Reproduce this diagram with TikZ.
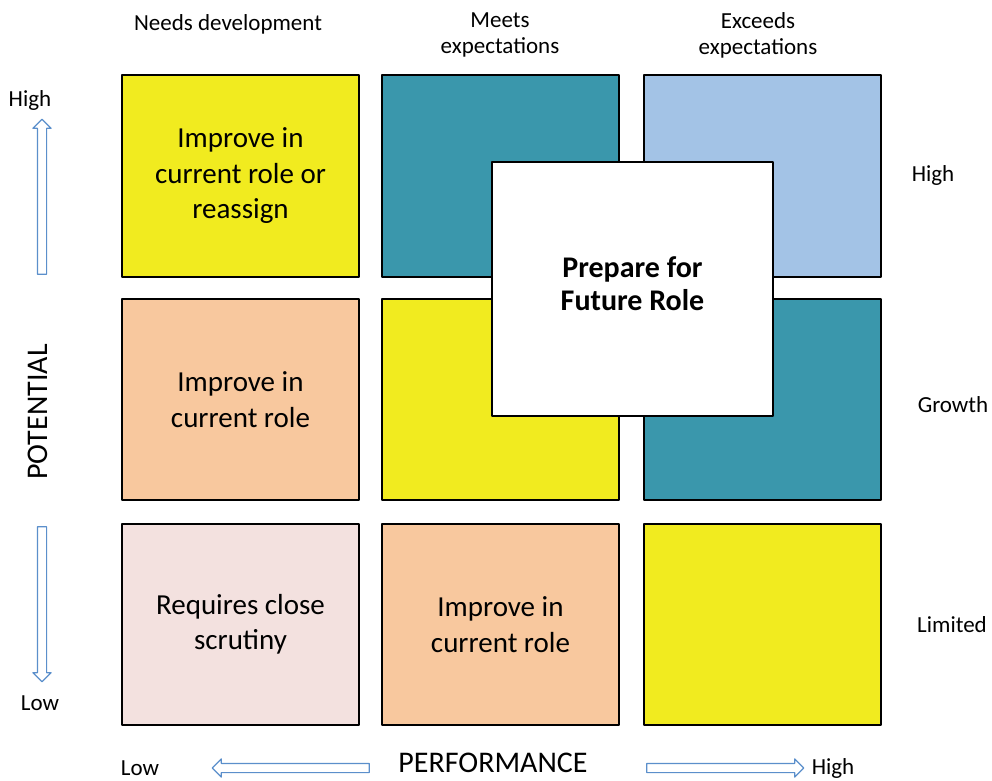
\documentclass[tikz,border=0pt]{standalone}
\usepackage{fontspec}
\setmainfont{Carlito}
\usepackage{tikz}
\usetikzlibrary{shapes.arrows}
\definecolor{cellyellow}{HTML}{F1EB1F}
\definecolor{cellteal}{HTML}{3A97AC}
\definecolor{cellblue}{HTML}{A3C3E6}
\definecolor{cellpeach}{HTML}{F8C89E}
\definecolor{cellpink}{HTML}{F3E1DF}
\definecolor{arrowblue}{HTML}{5B8FCB}

\begin{document}
\begin{tikzpicture}[x=1pt,y=-1pt,line join=round
  ,cell/.style={draw=black,line width=1.5pt,minimum width=237pt,minimum height=202pt,
    align=center,font=\fontsize{29}{35.5}\selectfont,inner sep=0pt}
  ,axislbl/.style={font=\fontsize{23}{26}\selectfont,align=center}
  ,bigarrow/.style={single arrow,draw=arrowblue,line width=1.2pt,inner sep=4pt,
    single arrow head extend=4.5pt,single arrow tip angle=90,minimum height=#1}]
  \useasboundingbox (0,0) rectangle (992,780);
  % grid of cells
  \node[cell,fill=cellyellow] (nh) at (240.5,176) {Improve in\\current role or\\reassign};
  \node[cell,fill=cellteal] (mh) at (500.5,176) {};
  \node[cell,fill=cellblue] (eh) at (762.5,176) {};
  \node[cell,fill=cellpeach,minimum height=201pt] (ng) at (240.5,399.5) {Improve in\\current role};
  \node[cell,fill=cellyellow,minimum height=201pt] (mg) at (500.5,399.5) {};
  \node[cell,fill=cellteal,minimum height=201pt] (eg) at (762.5,399.5) {};
  \node[cell,fill=cellpink,minimum height=201pt] (nl) at (240.5,624.5) {Requires close\\scrutiny};
  \node[cell,fill=cellpeach,minimum height=201pt] (ml) at (500.5,624.5) {Improve in\\current role};
  \node[cell,fill=cellyellow,minimum height=201pt] (el) at (762.5,624.5) {};
  % centre box
  \node[cell,fill=white,minimum width=281pt,minimum height=254pt] (fut) at (632.5,289) {};
  \node[align=center,font=\bfseries\fontsize{30}{33}\selectfont]
    (futtxt) at ([yshift=5pt]fut.center) {Prepare for\\Future Role};
  % column heads
  \node[axislbl] (cn) at (228,24) {Needs development};
  \node[axislbl] (cm) at (500,35) {Meets\\expectations};
  \node[axislbl] (ce) at (758,35) {Exceeds\\expectations};
  % row heads
  \node[axislbl] (rh) at (933,175) {High};
  \node[axislbl] (rg) at (953,405) {Growth};
  \node[axislbl] (rl) at (952,625) {Limited};
  % potential axis
  \node[axislbl] (ph) at (30,100) {High};
  \node[bigarrow=155pt,rotate=90] (pup) at (42,199) {};
  \node[font=\fontsize{30}{34}\selectfont,rotate=90] (pot) at (38,412) {POTENTIAL};
  \node[bigarrow=155pt,rotate=-90] (pdn) at (42,602) {};
  \node[axislbl] (pl) at (40,703) {Low};
  % performance axis
  \node[axislbl] (fl) at (140,768) {Low};
  \node[bigarrow=157pt,rotate=180] (flt) at (293,768) {};
  \node[font=\fontsize{30}{34}\selectfont,inner sep=0pt] (perf) at (493,763) {PERFORMANCE};
  \node[bigarrow=157pt] (frt) at (723,768) {};
  \node[axislbl] (fh) at (833,768) {High};
\end{tikzpicture}
\end{document}
